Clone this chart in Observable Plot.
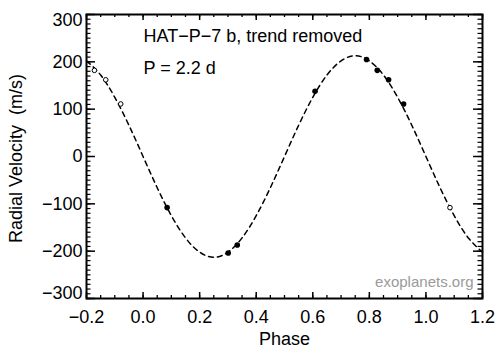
<!DOCTYPE html>
<html>
<head>
<meta charset="utf-8">
<script src="https://cdn.jsdelivr.net/npm/d3@7"></script>
<script src="https://cdn.jsdelivr.net/npm/@observablehq/plot@0.6"></script>
<style>
  html, body { margin: 0; padding: 0; background: #fff; }
  svg text { white-space: pre; }
</style>
</head>
<body>
<div id="chart"></div>
<script>
// Model curve
const modelPhase = [-0.2,-0.15,-0.1,-0.05,0,0.05,0.1,0.15,0.2,0.25,0.3,0.35,0.4,0.45,0.5,0.55,0.6,0.65,0.7,0.75,0.8,0.85,0.9,0.95,1.0,1.05,1.1,1.15,1.2];
const modelRV    = [202,172,125,66,0,-66,-125,-172,-202,-213,-202,-172,-125,-66,0,66,125,172,202,213,202,172,125,66,0,-66,-125,-172,-202];

// Measured points (filled)
const obsPhase = [0.085, 0.301, 0.333, 0.608, 0.790, 0.828, 0.868, 0.921];
const obsRV    = [-108, -204, -187, 138, 205, 182, 162, 111];

// Repeated points outside [0,1] (open)
const repPhase = [-0.172, -0.132, -0.079, 1.085];
const repRV    = [182, 162, 111, -108];

// Axes
const xMajor = [-0.2, 0, 0.2, 0.4, 0.6, 0.8, 1.0, 1.2];
const xLabels = ["\u22120.2", "0.0", "0.2", "0.4", "0.6", "0.8", "1.0", "1.2"];
const xMinor = d3.range(-20, 121, 5).map(d => d / 100);
const yMajor = [-300, -200, -100, 0, 100, 200, 300];
const yLabels = ["\u2212300", "\u2212200", "\u2212100", "0", "100", "200", "300"];
const yMinor = d3.range(-300, 301, 10);

const titleLines = ["HAT\u2212P\u22127 b, trend removed", "P = 2.2 d"];
const xTitle = "Phase";
const yTitle = "Radial Velocity  (m/s)";
const watermark = "exoplanets.org";

const model = modelPhase.map((p, i) => ({phase: p, rv: modelRV[i]}));
const obs = obsPhase.map((p, i) => ({phase: p, rv: obsRV[i]}));
const rep = repPhase.map((p, i) => ({phase: p, rv: repRV[i]}));
const yLab = yMajor.map((v, i) => ({v, t: yLabels[i]}));
const xLab = xMajor.map((v, i) => ({v, t: xLabels[i]}));

const W = 500, H = 356, mL = 86, mR = 18, mT = 14, mB = 58;
const ph = H - mT - mB, pw = W - mL - mR;
const font = "'Liberation Sans', Arial, Helvetica, sans-serif";
const ls = "0.8px";

const chart = Plot.plot({
  width: W, height: H,
  marginLeft: mL, marginRight: mR, marginTop: mT, marginBottom: mB,
  style: {fontFamily: font, background: "#fff", color: "#000"},
  x: {domain: [-0.2, 1.2], axis: null},
  y: {domain: [-300, 300], axis: null},
  marks: [
    // inward ticks
    Plot.tickX(xMinor, {x: d => d, insetTop: ph - 3, stroke: "#000", strokeWidth: 1.3}),
    Plot.tickX(xMinor, {x: d => d, insetBottom: ph - 3, stroke: "#000", strokeWidth: 1.3}),
    Plot.tickX(xMajor, {x: d => d, insetTop: ph - 6, stroke: "#000", strokeWidth: 1.5}),
    Plot.tickX(xMajor, {x: d => d, insetBottom: ph - 6, stroke: "#000", strokeWidth: 1.5}),
    Plot.tickY(yMinor, {y: d => d, insetRight: pw - 4.5, stroke: "#000", strokeWidth: 1.2}),
    Plot.tickY(yMinor, {y: d => d, insetLeft: pw - 4.5, stroke: "#000", strokeWidth: 1.2}),
    Plot.tickY(yMajor, {y: d => d, insetRight: pw - 9, stroke: "#000", strokeWidth: 1.5}),
    Plot.tickY(yMajor, {y: d => d, insetLeft: pw - 9, stroke: "#000", strokeWidth: 1.5}),
    Plot.frame({stroke: "#000", strokeWidth: 2}),
    // model
    Plot.line(model, {x: "phase", y: "rv", curve: "natural", stroke: "#000", strokeWidth: 1.5, strokeDasharray: "5,4"}),
    // data
    Plot.dot(rep, {x: "phase", y: "rv", r: 2.3, stroke: "#000", strokeWidth: 1, fill: "#fff"}),
    Plot.dot(obs, {x: "phase", y: "rv", r: 2.8, fill: "#000", stroke: "none"}),
    // tick labels
    Plot.text(xLab, {x: "v", text: "t", frameAnchor: "bottom", textAnchor: "middle", lineAnchor: "middle", dy: 18.5, fontSize: 18, letterSpacing: ls, fill: "#000"}),
    Plot.text(yLab.filter(d => Math.abs(d.v) < 300), {y: "v", text: "t", frameAnchor: "left", textAnchor: "end", lineAnchor: "middle", dx: -4, fontSize: 18, letterSpacing: ls, fill: "#000"}),
    Plot.text(yLab.filter(d => d.v === 300), {y: "v", text: "t", frameAnchor: "left", textAnchor: "end", lineAnchor: "middle", dx: -4, dy: 6, fontSize: 18, letterSpacing: ls, fill: "#000"}),
    Plot.text(yLab.filter(d => d.v === -300), {y: "v", text: "t", frameAnchor: "left", textAnchor: "end", lineAnchor: "middle", dx: -4, dy: -5, fontSize: 18, letterSpacing: ls, fill: "#000"}),
    // axis titles
    Plot.text([xTitle], {text: d => d, frameAnchor: "bottom", textAnchor: "middle", lineAnchor: "middle", dy: 40.4, fontSize: 18, letterSpacing: ls, fill: "#000"}),
    Plot.text([yTitle], {text: d => d, frameAnchor: "left", textAnchor: "middle", lineAnchor: "middle", rotate: -90, dx: -70, dy: 2, fontSize: 18, letterSpacing: ls, fill: "#000"}),
    // annotations
    Plot.text([titleLines[0]], {text: d => d, frameAnchor: "top-left", textAnchor: "start", lineAnchor: "middle", dx: 57, dy: 21.8, fontSize: 18, letterSpacing: ls, fill: "#000"}),
    Plot.text([titleLines[1]], {text: d => d, frameAnchor: "top-left", textAnchor: "start", lineAnchor: "middle", dx: 57, dy: 53.8, fontSize: 18, letterSpacing: ls, fill: "#000"}),
    Plot.text([watermark], {text: d => d, frameAnchor: "bottom-right", textAnchor: "end", lineAnchor: "middle", dx: -9, dy: -16, fontSize: 15, letterSpacing: "0.2px", fill: "#9a9a9a"})
  ]
});
document.getElementById("chart").appendChild(chart);
</script>
</body>
</html>
